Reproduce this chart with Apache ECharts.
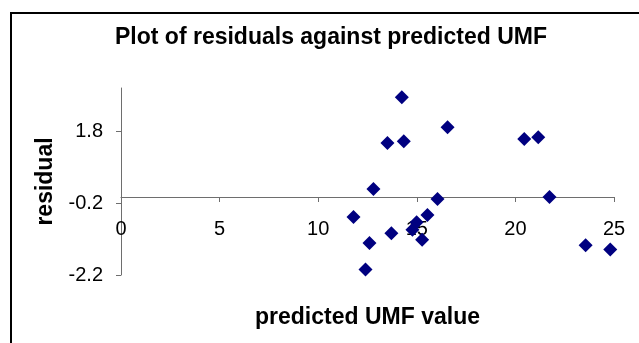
<!DOCTYPE html>
<html>
<head>
<meta charset="utf-8">
<script src="https://cdn.jsdelivr.net/npm/echarts@6/dist/echarts.min.js"></script>
<style>
  html, body { margin: 0; padding: 0; background: #fff; }
  #chart { width: 639px; height: 343px; }
</style>
</head>
<body>
<div id="chart"></div>
<script>
// Predicted UMF values and the matching residuals
const predicted = [14.24, 16.56, 13.51, 14.34, 20.45, 21.16, 12.80, 16.05, 21.73,
                   11.79, 15.54, 14.99, 14.78, 13.71, 15.27, 12.60, 12.40, 23.56, 24.81];
const residuals = [2.74, 1.91, 1.47, 1.52, 1.58, 1.63, 0.19, -0.09, -0.03,
                   -0.59, -0.53, -0.73, -0.94, -1.04, -1.22, -1.31, -2.05, -1.37, -1.49];
const yTicks = [-2.2, -0.2, 1.8];
const xTicks = [0, 5, 10, 15, 20, 25];

const points = predicted.map((x, i) => [x, residuals[i]]);
const font = 'Liberation Sans, Arial, sans-serif';
const axisColor = '#6e6e6e';

const chart = echarts.init(document.getElementById('chart'), null, { renderer: 'canvas' });
chart.setOption({
  backgroundColor: '#fff',
  animation: false,
  title: {
    text: 'Plot of residuals against predicted UMF',
    left: 115,
    top: 26,
    padding: 0,
    textStyle: { fontFamily: font, fontSize: 23, fontWeight: 'bold', color: '#000' }
  },
  graphic: [{
    type: 'rect',
    shape: { x: 11, y: 13, width: 700, height: 400 },
    style: { fill: 'none', stroke: '#000', lineWidth: 2 },
    silent: true,
    z: 100
  }],
  grid: { left: 121, right: 25, top: 88, bottom: 68, outerBoundsMode: 'none' },
  xAxis: {
    type: 'value',
    min: 0,
    max: 25,
    interval: 5,
    // the horizontal axis crosses the residual axis at zero
    offset: -78,
    name: 'predicted UMF value',
    nameLocation: 'middle',
    nameGap: 109,
    nameTextStyle: { fontFamily: font, fontSize: 23, fontWeight: 'bold', color: '#000' },
    axisLine: { show: true, onZero: false, lineStyle: { color: axisColor, width: 1 } },
    axisTick: { show: true, inside: false, length: 5, lineStyle: { color: axisColor } },
    axisLabel: {
      fontFamily: font, fontSize: 20, color: '#000', margin: 22,
      customValues: xTicks
    },
    splitLine: { show: false }
  },
  yAxis: {
    type: 'value',
    min: -2.2,
    max: 3,
    name: 'residual',
    nameLocation: 'middle',
    nameGap: 62,
    nameRotate: 90,
    nameTextStyle: { fontFamily: font, fontSize: 23, fontWeight: 'bold', color: '#000' },
    axisLine: { show: true, onZero: false, lineStyle: { color: axisColor, width: 1 } },
    axisTick: { show: true, inside: false, length: 5, lineStyle: { color: axisColor }, customValues: yTicks },
    axisLabel: {
      fontFamily: font, fontSize: 20, color: '#000', margin: 18,
      customValues: yTicks,
      formatter: v => Number(v).toFixed(1)
    },
    splitLine: { show: false }
  },
  series: [{
    type: 'scatter',
    data: points,
    symbol: 'diamond',
    symbolSize: [14, 14],
    itemStyle: { color: '#000080', opacity: 1 }
  }]
});
</script>
</body>
</html>
